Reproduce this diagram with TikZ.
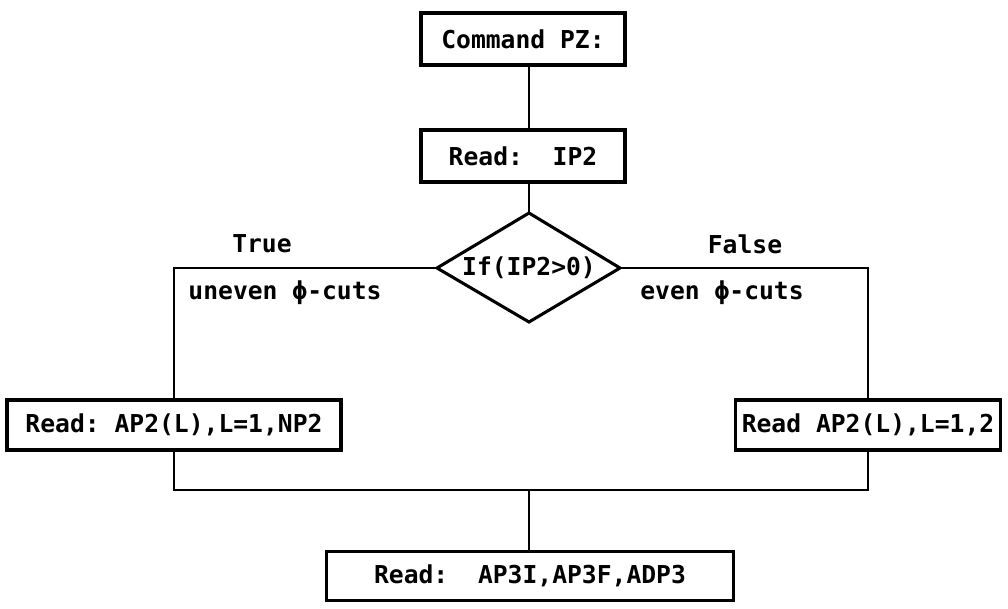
\documentclass[tikz,border=0pt]{standalone}
\usepackage{fontspec}
\setmonofont{DejaVu Sans Mono}
\begin{document}
\begin{tikzpicture}[x=0.75pt,y=-0.75pt,
  every node/.style={font=\ttfamily\bfseries\fontsize{18.5}{22}\selectfont},
  box/.style={draw,line width=2.3pt,rectangle,inner sep=0pt},
  conn/.style={line width=1.7pt},
  lbl/.style={inner sep=0pt}]
\useasboundingbox (0,0) rectangle (1008,608);
\node[box,minimum width=153pt,minimum height=39pt] (cmd) at (523,39) {Command PZ:};
\node[box,minimum width=153pt,minimum height=39pt] (ip2) at (523,156) {Read:\ \ IP2};
\coordinate (dt) at (529,213);
\coordinate (dr) at (620,268);
\coordinate (db) at (529,322);
\coordinate (dl) at (437,268);
\draw[line width=2.3pt,line join=miter] (dt) -- (dr) -- (db) -- (dl) -- cycle;
\node[lbl] (cond) at (529,268) {If(IP2>0)};
\node[box,minimum width=250.5pt,minimum height=37.5pt] (lbox) at (174,425) {Read: AP2(L),L=1,NP2};
\node[box,minimum width=198.75pt,minimum height=37.5pt] (rbox) at (868,425) {Read AP2(L),L=1,2};
\node[box,minimum width=305.25pt,minimum height=36.75pt] (bot) at (530,576) {Read:\ \ AP3I,AP3F,ADP3};
\coordinate (merge) at (529,490);
\node[lbl] (t) at (262,244) {True};
\node[lbl] (u) at (285,293) {uneven ϕ-cuts};
\node[lbl] (f) at (745,244) {False};
\node[lbl] (e) at (722,293) {even ϕ-cuts};
\draw[conn] (cmd.south -| dt) -- (ip2.north -| dt);
\draw[conn] (ip2.south -| dt) -- (dt);
\draw[conn] (dl) -| (lbox.north);
\draw[conn] (dr) -| (rbox.north);
\draw[conn] (lbox.south) |- (merge) -| (rbox.south);
\draw[conn] (merge) -- (bot.north -| merge);
\end{tikzpicture}
\end{document}
